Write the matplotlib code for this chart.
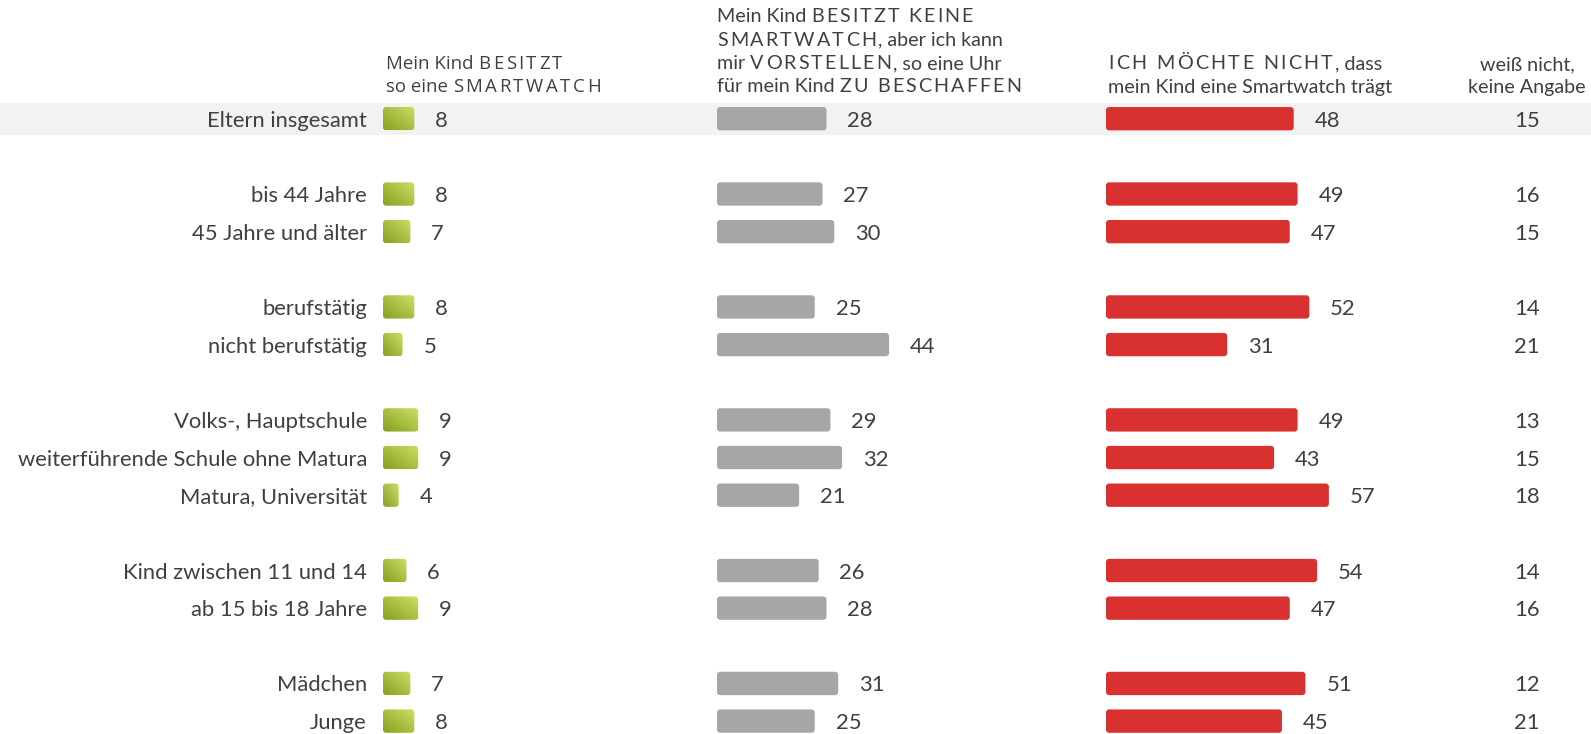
import numpy as np
import matplotlib
matplotlib.use('Agg')
import matplotlib.pyplot as plt
from matplotlib.patches import FancyBboxPatch
from matplotlib.font_manager import FontProperties

plt.rcParams['font.family'] = ['Lato', 'DejaVu Sans']

# data
labels = ['Eltern insgesamt', 'bis 44 Jahre', '45 Jahre und älter', 'berufstätig',
          'nicht berufstätig', 'Volks-, Hauptschule', 'weiterführende Schule ohne Matura',
          'Matura, Universität', 'Kind zwischen 11 und 14', 'ab 15 bis 18 Jahre',
          'Mädchen', 'Junge']
rows = [0, 2, 3, 5, 6, 8, 9, 10, 12, 13, 15, 16]
besitzt = [8, 8, 7, 8, 5, 9, 9, 4, 6, 9, 7, 8]
vorstellen = [28, 27, 30, 25, 44, 29, 32, 21, 26, 28, 31, 25]
nicht = [48, 49, 47, 52, 31, 49, 43, 57, 54, 47, 51, 45]
weiss_nicht = [15, 16, 15, 14, 21, 13, 15, 18, 14, 16, 12, 21]

# header lines: (text, letter-spaced?) pieces
head1 = [[('Mein Kind ', 0), ('BESITZT', 1)],
         [('so eine ', 0), ('SMARTWATCH', 1)]]
head2 = [[('Mein Kind ', 0), ('BESITZT KEINE', 1)],
         [('SMARTWATCH', 1), (', aber ich kann', 0)],
         [('mir ', 0), ('VORSTELLEN', 1), (', so eine Uhr', 0)],
         [('für mein Kind ', 0), ('ZU BESCHAFFEN', 1)]]
head3 = [[('ICH MÖCHTE NICHT', 1), (', dass', 0)],
         [('mein Kind eine Smartwatch trägt', 0)]]
head4 = ['weiß nicht,', 'keine Angabe']

W, H = 1591, 734
TXT = '#404040'
FS = 15.8
fig = plt.figure(figsize=(W / 100, H / 100), dpi=100)
renderer = fig.canvas.get_renderer()

# rows: y in row units, row 0 at 118.7 px, 37.65 px per row
row_px, row0_px = 37.65, 118.7
ylim = ((H - row0_px) / row_px, -row0_px / row_px)
unit_px = 3.91  # pixels per percent

ax0 = fig.add_axes([0, 0, 1, 1])
ax0.set_xlim(0, W)
ax0.set_ylim(*ylim)
ax0.axis('off')
ax0.axhspan(-0.43, 0.43, color='#f2f2f2', lw=0, zorder=0)

for lab, r, w in zip(labels, rows, weiss_nicht):
    ax0.text(367, r, lab, ha='right', va='center_baseline', fontsize=FS, color=TXT)
    ax0.text(1527, r, str(w), ha='center', va='center_baseline', fontsize=FS, color=TXT)


def column(x0, values, color=None, gradient=False):
    ax = fig.add_axes([x0 / W, 0, 100 * unit_px / W, 1])
    ax.set_xlim(0, 100)
    ax.set_ylim(*ylim)
    ax.axis('off')
    ax.patch.set_alpha(0)
    asp = (1 / row_px) / (1 / unit_px)
    for v, r in zip(values, rows):
        h = 0.62
        p = FancyBboxPatch((0, r - h / 2), v, h,
                           boxstyle='round,pad=0,rounding_size=0.8',
                           mutation_aspect=asp, lw=0,
                           fc=color if color else 'none', zorder=2)
        ax.add_patch(p)
        if gradient:
            gx, gy = np.meshgrid(np.linspace(0, 1, 50), np.linspace(0, 1, 50))
            g = (gx + gy) / 2
            c0 = np.array([0x86, 0xa0, 0x20]) / 255
            c1 = np.array([0xcc, 0xe0, 0x66]) / 255
            img = c0 + (c1 - c0) * g[..., None]
            im = ax.imshow(img, extent=(0, v, r + h / 2, r - h / 2),
                           origin='lower', zorder=2, interpolation='bilinear')
            im.set_clip_path(p)
        ax.annotate(str(v), (v, r), xytext=(15, 0), textcoords='offset points',
                    ha='left', va='center_baseline', fontsize=FS, color=TXT)
    ax.set_aspect('auto')
    ax.set_xlim(0, 100)
    ax.set_ylim(*ylim)
    return ax


column(383, besitzt, gradient=True)
column(717, vorstellen, color='#a6a6a6')
column(1106, nicht, color='#d93030')


# headers, drawn piece by piece so the capitals can be letter-spaced
def adv(s, prop):
    # advance width in px, trailing/leading spaces included
    w = lambda t: renderer.get_text_width_height_descent(t, prop, ismath=False)[0]
    return w('H' + s + 'H') - w('HH')


def header(x0, y_last, lines, family, size, track, gap=23.5):
    n = len(lines)
    prop = FontProperties(family=family, size=size)
    for i, line in enumerate(lines):
        y = y_last - (n - 1 - i) * gap
        x = x0
        for text, spaced in line:
            if spaced:
                for k, ch in enumerate(text):
                    if ch != ' ':
                        fig.text((x + adv(text[:k], prop) + k * track) / W, 1 - y / H, ch,
                                 fontproperties=prop, color=TXT, ha='left', va='baseline')
                x += adv(text, prop) + len(text) * track
            else:
                fig.text(x / W, 1 - y / H, text, fontproperties=prop, color=TXT,
                         ha='left', va='baseline')
                x += adv(text, prop)


header(386, 92.5, head1, ['Open Sans', 'DejaVu Sans'], 13.4, 2.5)
header(717, 92.5, head2, ['Lato', 'DejaVu Sans'], 14.2, 2.1)
header(1108, 92.5, head3, ['Lato', 'DejaVu Sans'], 14.2, 2.4)
for i, t in enumerate(head4):
    fig.text(1527 / W, 1 - (93.5 - (1 - i) * 23.5) / H, t, ha='center', va='baseline',
             fontsize=14.2, color=TXT)

fig.savefig('out.png', dpi=100)
